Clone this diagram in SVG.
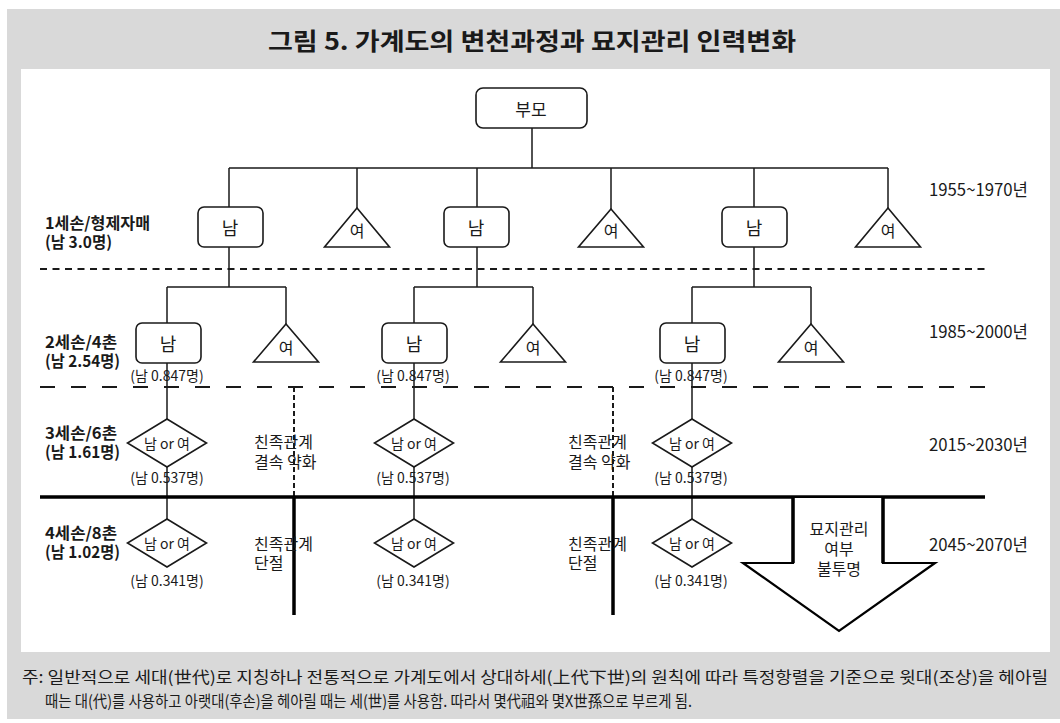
<svg xmlns="http://www.w3.org/2000/svg" width="1060" height="723" viewBox="0 0 1060 723">
<style>
text{font-family:"Noto Sans CJK KR","Noto Sans",sans-serif;fill:#1a1a1a;dominant-baseline:central}
.title{font-size:24px;font-weight:bold}
.lbl{font-size:16px;font-weight:bold}
.yr{font-size:17px}
.n{font-size:18px;text-anchor:middle}
.f{font-size:16px;text-anchor:middle}
.d{font-size:14px;text-anchor:middle}
.c{font-size:14px;text-anchor:middle}
.k{font-size:16px}
.a{font-size:16px;text-anchor:middle}
.note{font-size:16px}
.box{fill:#fff;stroke:#1a1a1a;stroke-width:1.6}
.ln{fill:none;stroke:#1a1a1a;stroke-width:1.5}
</style>
<rect x="7" y="9" width="1053" height="710" fill="#d9d9d9"/>
<rect x="21" y="69" width="1029" height="583" fill="#fff"/>
<text class="title" x="532" y="39" text-anchor="middle" textLength="528" lengthAdjust="spacingAndGlyphs">그림 5. 가계도의 변천과정과 묘지관리 인력변화</text>

<g id="connectors">
  <path class="ln" d="M532 128V168M229 168H888M229 168V207M357 168V208M477 168V207M611 168V209M754 168V207M888 168V208"/>
  <path class="ln" d="M229 247V287M167 287H286M167 287V323M286 287V324"/>
  <path class="ln" d="M477 247V287M414 287H533M414 287V323M533 287V324"/>
  <path class="ln" d="M754 247V287M692 287H811M692 287V323M811 287V324"/>
  <path class="ln" d="M167 363V419M167 467V519M414 363V419M414 467V519M692 363V419M692 467V519"/>
</g>

<g id="lines">
  <line x1="40" y1="269" x2="985" y2="269" stroke="#1a1a1a" stroke-width="1.8" stroke-dasharray="7 5.5"/>
  <line x1="40" y1="387" x2="985" y2="387" stroke="#1a1a1a" stroke-width="1.8" stroke-dasharray="15 16"/>
  <line x1="294" y1="387" x2="294" y2="497" stroke="#1a1a1a" stroke-width="2" stroke-dasharray="5 3"/>
  <line x1="613" y1="387" x2="613" y2="497" stroke="#1a1a1a" stroke-width="2" stroke-dasharray="5 3"/>
  <line x1="40" y1="497" x2="985" y2="497" stroke="#000" stroke-width="3.5"/>
  <line x1="294" y1="497" x2="294" y2="615" stroke="#000" stroke-width="3.5"/>
  <line x1="613" y1="497" x2="613" y2="615" stroke="#000" stroke-width="3.5"/>
</g>

<g id="parents">
  <rect class="box" x="476" y="88" width="111" height="40" rx="7"/>
  <text class="n" x="531" y="108" style="font-size:17px">부모</text>
</g>

<g id="gen1-m1"><rect class="box" x="198" y="207" width="65" height="40" rx="6"/><text class="n" x="230" y="227">남</text></g>
<g id="gen1-f1"><polygon class="box" points="357,208 389.5,247 324.5,247"/><text class="f" x="357" y="230">여</text></g>
<g id="gen1-m2"><rect class="box" x="444" y="207" width="65" height="40" rx="6"/><text class="n" x="476" y="227">남</text></g>
<g id="gen1-f2"><polygon class="box" points="611,209 643.5,247 578.5,247"/><text class="f" x="611" y="230">여</text></g>
<g id="gen1-m3"><rect class="box" x="722" y="207" width="65" height="40" rx="6"/><text class="n" x="754" y="227">남</text></g>
<g id="gen1-f3"><polygon class="box" points="888,208 920.5,247 855.5,247"/><text class="f" x="888" y="230">여</text></g>

<g id="gen2-m1"><rect class="box" x="136" y="323" width="65" height="40" rx="6"/><text class="n" x="168" y="343">남</text><text class="c" x="167" y="375">(남 0.847명)</text></g>
<g id="gen2-f1"><polygon class="box" points="286,324 318.5,362 253.5,362"/><text class="f" x="286" y="347">여</text></g>
<g id="gen2-m2"><rect class="box" x="382" y="323" width="65" height="40" rx="6"/><text class="n" x="414" y="343">남</text><text class="c" x="413" y="375">(남 0.847명)</text></g>
<g id="gen2-f2"><polygon class="box" points="533,324 565.5,362 500.5,362"/><text class="f" x="533" y="347">여</text></g>
<g id="gen2-m3"><rect class="box" x="660" y="323" width="65" height="40" rx="6"/><text class="n" x="692" y="343">남</text><text class="c" x="691" y="375">(남 0.847명)</text></g>
<g id="gen2-f3"><polygon class="box" points="811,324 843.5,362 778.5,362"/><text class="f" x="811" y="347">여</text></g>

<g id="gen3-1"><polygon class="box" points="167,419 206.5,443 167,467 127.5,443"/><text class="d" x="167" y="443">남 or 여</text><text class="c" x="167" y="477">(남 0.537명)</text></g>
<g id="gen3-2"><polygon class="box" points="414,419 453.5,443 414,467 374.5,443"/><text class="d" x="414" y="443">남 or 여</text><text class="c" x="413" y="477">(남 0.537명)</text></g>
<g id="gen3-3"><polygon class="box" points="692,419 731.5,443 692,467 652.5,443"/><text class="d" x="692" y="443">남 or 여</text><text class="c" x="691" y="477">(남 0.537명)</text></g>

<g id="gen4-1"><polygon class="box" points="167,519 206.5,543 167,567 127.5,543"/><text class="d" x="167" y="543">남 or 여</text><text class="c" x="167" y="580">(남 0.341명)</text></g>
<g id="gen4-2"><polygon class="box" points="414,519 453.5,543 414,567 374.5,543"/><text class="d" x="414" y="543">남 or 여</text><text class="c" x="413" y="580">(남 0.341명)</text></g>
<g id="gen4-3"><polygon class="box" points="692,519 731.5,543 692,567 652.5,543"/><text class="d" x="692" y="543">남 or 여</text><text class="c" x="691" y="580">(남 0.341명)</text></g>

<g id="kin-labels">
  <text class="k" x="254" y="441">친족관계</text><text class="k" x="254" y="461">결속 약화</text>
  <text class="k" x="568" y="441">친족관계</text><text class="k" x="568" y="461">결속 약화</text>
  <text class="k" x="254" y="543">친족관계</text><text class="k" x="254" y="562">단절</text>
  <text class="k" x="568" y="543">친족관계</text><text class="k" x="568" y="562">단절</text>
</g>

<g id="arrow">
  <polygon points="793,497 793,563 743,563 839,631 935,563 883,563 883,497" fill="#fff" stroke="#000" stroke-width="2.2" stroke-linejoin="miter"/>
  <path d="M793 497V563M883 497V563" stroke="#000" stroke-width="3.5" fill="none"/>
  <text class="a" x="839" y="528">묘지관리</text>
  <text class="a" x="839" y="548">여부</text>
  <text class="a" x="839" y="568">불투명</text>
</g>

<g id="gen-labels">
  <text class="lbl" x="45" y="222" textLength="105" lengthAdjust="spacingAndGlyphs">1세손/형제자매</text>
  <text class="lbl" x="45" y="241" textLength="67" lengthAdjust="spacingAndGlyphs">(남 3.0명)</text>
  <text class="lbl" x="45" y="341" textLength="72" lengthAdjust="spacingAndGlyphs">2세손/4촌</text>
  <text class="lbl" x="45" y="360" textLength="75" lengthAdjust="spacingAndGlyphs">(남 2.54명)</text>
  <text class="lbl" x="45" y="432" textLength="72" lengthAdjust="spacingAndGlyphs">3세손/6촌</text>
  <text class="lbl" x="45" y="451" textLength="75" lengthAdjust="spacingAndGlyphs">(남 1.61명)</text>
  <text class="lbl" x="45" y="532" textLength="72" lengthAdjust="spacingAndGlyphs">4세손/8촌</text>
  <text class="lbl" x="45" y="551" textLength="75" lengthAdjust="spacingAndGlyphs">(남 1.02명)</text>
</g>

<g id="years">
  <text class="yr" x="929" y="188" textLength="99" lengthAdjust="spacingAndGlyphs">1955~1970년</text>
  <text class="yr" x="929" y="330" textLength="99" lengthAdjust="spacingAndGlyphs">1985~2000년</text>
  <text class="yr" x="929" y="443" textLength="99" lengthAdjust="spacingAndGlyphs">2015~2030년</text>
  <text class="yr" x="929" y="543" textLength="99" lengthAdjust="spacingAndGlyphs">2045~2070년</text>
</g>

<g id="note">
  <text class="note" x="22" y="676" textLength="1026" lengthAdjust="spacingAndGlyphs">주: 일반적으로 세대(世代)로 지칭하나 전통적으로 가계도에서 상대하세(上代下世)의 원칙에 따라 특정항렬을 기준으로 윗대(조상)을 헤아릴</text>
  <text class="note" x="45" y="700" textLength="647" lengthAdjust="spacingAndGlyphs">때는 대(代)를 사용하고 아랫대(후손)을 헤아릴 때는 세(世)를 사용함. 따라서 몇代祖와 몇X世孫으로 부르게 됨.</text>
</g>
</svg>
